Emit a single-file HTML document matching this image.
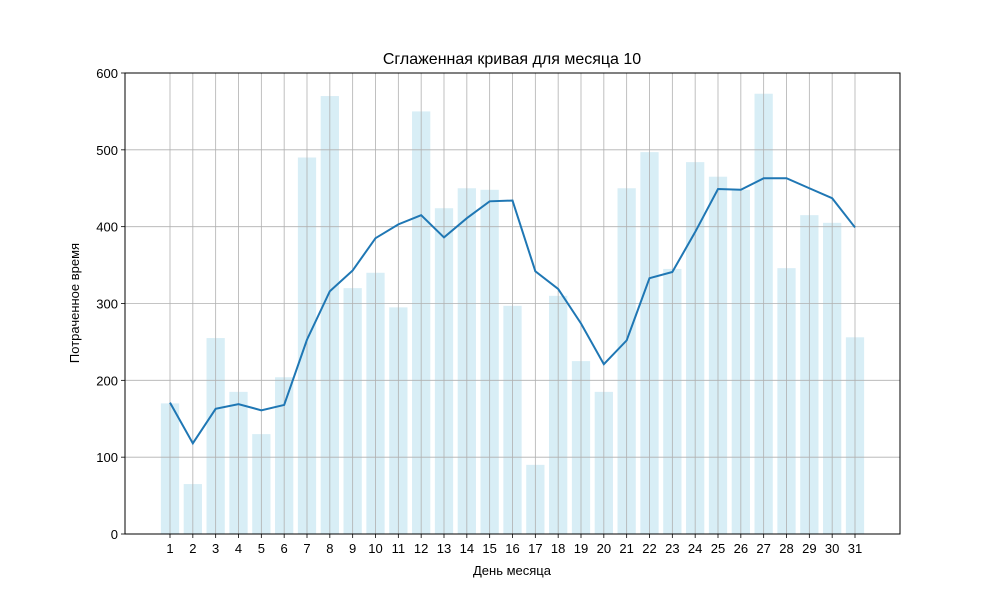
<!DOCTYPE html>
<html><head><meta charset="utf-8"><style>body{margin:0;background:#fff}svg{display:block;font-family:"Liberation Sans","DejaVu Sans",sans-serif}</style></head>
<body>
<svg id="chart" width="1000" height="600">
<rect width="1000" height="600" fill="#fff"/>
<text x="512" y="64" text-anchor="middle" font-size="16">Сглаженная кривая для месяца 10</text>
<text x="512" y="575" text-anchor="middle" font-size="13">День месяца</text>
<text transform="translate(79,303) rotate(-90)" text-anchor="middle" font-size="13">Потраченное время</text>
<g id="bars"></g><g id="grid"></g><g id="line"></g><g id="axes"></g>
</svg>
<script>
const days=[1,2,3,4,5,6,7,8,9,10,11,12,13,14,15,16,17,18,19,20,21,22,23,24,25,26,27,28,29,30,31];
const barValues=[170,65,255,185,130,204,490,570,320,340,295,550,424,450,448,297,90,310,225,185,450,497,345,484,465,448,573,346,415,405,256];
const smoothValues=[171,118,163,169,161,168,253,316,343,385,403,415,386,411,433,434,342,319,274,221,252,333,341,393,449,448,463,463,450,437,399];
const yTicks=[0,100,200,300,400,500,600];
const NS="http://www.w3.org/2000/svg";
const L=125,R=900,T=73,B=534;
const xs=d=>170+(d-1)*(855-170)/30;
const ys=v=>B-v*(B-T)/600;
const bw=0.8*(855-170)/30;
function mk(tag,attrs,parent){const e=document.createElementNS(NS,tag);for(const k in attrs)e.setAttribute(k,attrs[k]);document.getElementById(parent).appendChild(e);return e;}
days.forEach((d,i)=>{const r=mk('rect',{x:xs(d)-bw/2,y:ys(barValues[i]),width:bw,height:B-ys(barValues[i]),fill:'#d8eef6'},'bars');

});
days.forEach(d=>{const g=mk('line',{x1:xs(d),x2:xs(d),y1:T,y2:B,stroke:'#b0b0b0','stroke-width':0.8},'grid');


mk('line',{x1:xs(d),x2:xs(d),y1:B,y2:B+4,stroke:'#000','stroke-width':0.8},'axes');
const t=mk('text',{x:xs(d),y:B+19,'text-anchor':'middle','font-size':13},'axes');t.textContent=d;

});
yTicks.forEach(v=>{const g=mk('line',{x1:L,x2:R,y1:ys(v),y2:ys(v),stroke:'#b0b0b0','stroke-width':0.8},'grid');


mk('line',{x1:L-4,x2:L,y1:ys(v),y2:ys(v),stroke:'#000','stroke-width':0.8},'axes');
const t=mk('text',{x:L-7,y:ys(v)+5,'text-anchor':'end','font-size':13},'axes');t.textContent=v;

});
const p=mk('polyline',{points:days.map((d,i)=>xs(d)+','+ys(smoothValues[i])).join(' '),fill:'none',stroke:'#1f77b4','stroke-width':2},'line');


const f=mk('rect',{x:L,y:T,width:R-L,height:B-T,fill:'none',stroke:'#000','stroke-width':1},'axes');


</script>
</body></html>
